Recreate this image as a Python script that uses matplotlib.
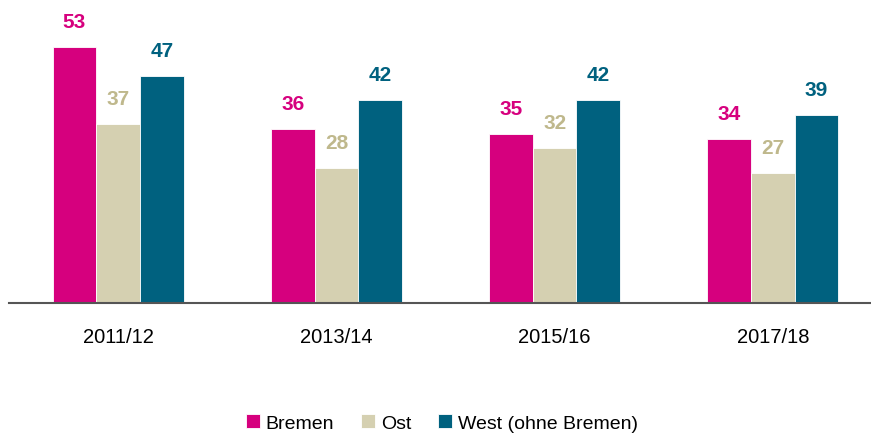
import numpy as np
import matplotlib.pyplot as plt

# Chart data
years = ['2011/12', '2013/14', '2015/16', '2017/18']
bremen = [53, 36, 35, 34]
ost = [37, 28, 32, 27]
west = [47, 42, 42, 39]

series = [
    ('Bremen', bremen, '#D6007E', '#D6007E'),
    ('Ost', ost, '#D5D0B1', '#BFB88C'),
    ('West (ohne Bremen)', west, '#00617F', '#00617F'),
]

plt.rcParams['font.family'] = ['Liberation Sans', 'DejaVu Sans']

fig = plt.figure(figsize=(8.71, 4.35), dpi=100)
ax = fig.add_axes([9 / 871, 131 / 435, 873 / 871, 290 / 435])

x = np.arange(len(years))
w = 0.2
for i, (name, vals, col, lcol) in enumerate(series):
    pos = x + (i - 1) * w
    bars = ax.bar(pos, vals, width=w, color=col, edgecolor='white',
                  linewidth=0.6, label=name)
    for b, v in zip(bars, vals):
        ax.annotate(str(v), (b.get_x() + b.get_width() / 2, v),
                    xytext=(0, 11.5), textcoords='offset points',
                    ha='center', va='bottom', fontsize=15,
                    fontweight='bold', color=lcol)

ax.set_xlim(-0.5, 3.5)
ax.set_ylim(0, 60)
ax.set_xticks(x)
ax.set_xticklabels(years, fontsize=14.5)
ax.tick_params(axis='x', length=0, pad=17)
ax.set_yticks([])
for s in ['top', 'right', 'left']:
    ax.spines[s].set_visible(False)
ax.spines['bottom'].set_color('#555555')
ax.spines['bottom'].set_linewidth(1.5)

fig.legend(loc='center', bbox_to_anchor=(442 / 871, 1 - 424 / 435),
           ncol=3, frameon=False, fontsize=14, handlelength=0.7,
           handleheight=0.7, handletextpad=0.3, columnspacing=1.4)

fig.savefig('out.png', dpi=100)
